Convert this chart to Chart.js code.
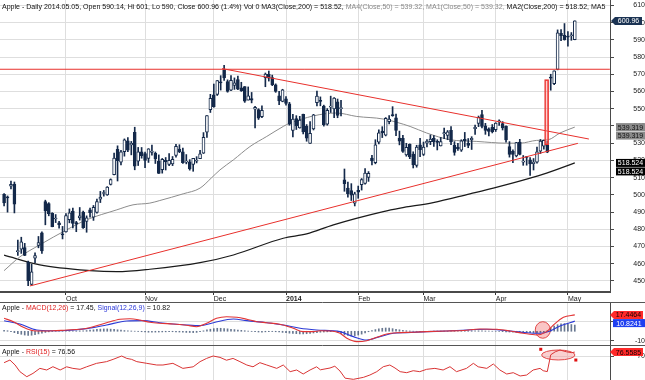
<!DOCTYPE html>
<html><head><meta charset="utf-8">
<script src="https://cdn.jsdelivr.net/npm/chart.js@4.4.1/dist/chart.umd.min.js"></script>
<style>
html,body{margin:0;padding:0;background:#fff;}
#wrap{position:relative;width:645px;height:380px;overflow:hidden;background:#fff;}
canvas{position:absolute;left:0;}
</style></head><body>
<div id="wrap">
<canvas id="c1" width="645" height="302" style="top:0px"></canvas>
<canvas id="c2" width="645" height="44" style="top:302px"></canvas>
<canvas id="c3" width="645" height="34" style="top:346px"></canvas>
</div>
<script>
// ---------- DATA ----------
const dates = [
'2013-09-05','2013-09-06','2013-09-09','2013-09-10','2013-09-11','2013-09-12','2013-09-13','2013-09-16','2013-09-17','2013-09-18',
'2013-09-19','2013-09-20','2013-09-23','2013-09-24','2013-09-25','2013-09-26','2013-09-27','2013-09-30','2013-10-01','2013-10-02',
'2013-10-03','2013-10-04','2013-10-07','2013-10-08','2013-10-09','2013-10-10','2013-10-11','2013-10-14','2013-10-15','2013-10-16',
'2013-10-17','2013-10-18','2013-10-21','2013-10-22','2013-10-23','2013-10-24','2013-10-25','2013-10-28','2013-10-29','2013-10-30',
'2013-10-31','2013-11-01','2013-11-04','2013-11-05','2013-11-06','2013-11-07','2013-11-08','2013-11-11','2013-11-12','2013-11-13',
'2013-11-14','2013-11-15','2013-11-18','2013-11-19','2013-11-20','2013-11-21','2013-11-22','2013-11-25','2013-11-26','2013-11-27',
'2013-11-29','2013-12-02','2013-12-03','2013-12-04','2013-12-05','2013-12-06','2013-12-09','2013-12-10','2013-12-11','2013-12-12',
'2013-12-13','2013-12-16','2013-12-17','2013-12-18','2013-12-19','2013-12-20','2013-12-23','2013-12-24','2013-12-26','2013-12-27',
'2013-12-30','2013-12-31','2014-01-02','2014-01-03','2014-01-06','2014-01-07','2014-01-08','2014-01-09','2014-01-10','2014-01-13',
'2014-01-14','2014-01-15','2014-01-16','2014-01-17','2014-01-21','2014-01-22','2014-01-23','2014-01-24','2014-01-27','2014-01-28',
'2014-01-29','2014-01-30','2014-01-31','2014-02-03','2014-02-04','2014-02-05','2014-02-06','2014-02-07','2014-02-10','2014-02-11',
'2014-02-12','2014-02-13','2014-02-14','2014-02-18','2014-02-19','2014-02-20','2014-02-21','2014-02-24','2014-02-25','2014-02-26',
'2014-02-27','2014-02-28','2014-03-03','2014-03-04','2014-03-05','2014-03-06','2014-03-07','2014-03-10','2014-03-11','2014-03-12',
'2014-03-13','2014-03-14','2014-03-17','2014-03-18','2014-03-19','2014-03-20','2014-03-21','2014-03-24','2014-03-25','2014-03-26',
'2014-03-27','2014-03-28','2014-03-31','2014-04-01','2014-04-02','2014-04-03','2014-04-04','2014-04-07','2014-04-08','2014-04-09',
'2014-04-10','2014-04-11','2014-04-14','2014-04-15','2014-04-16','2014-04-17','2014-04-21','2014-04-22','2014-04-23','2014-04-24',
'2014-04-25','2014-04-28','2014-04-29','2014-04-30','2014-05-01','2014-05-02','2014-05-05'];

const open = [
500.25,498.44,505.00,506.20,467.01,468.50,469.34,461.00,447.96,463.18,
470.71,478.00,496.10,494.88,489.20,486.00,483.78,477.25,478.45,485.63,
490.51,483.86,486.56,489.94,484.64,491.32,486.99,489.83,497.51,500.79,
499.98,505.99,511.77,526.41,519.00,525.00,531.32,529.04,536.27,519.61,
525.00,524.02,521.10,524.58,524.15,519.58,514.58,519.99,517.67,518.00,
522.81,526.58,524.99,519.03,519.23,517.60,519.52,521.02,524.12,536.31,
549.48,558.00,558.30,565.50,572.65,565.79,560.77,563.58,566.89,562.14,
562.85,555.02,555.81,549.70,549.50,545.43,568.00,569.89,568.10,563.82,
557.46,554.17,555.68,552.86,537.45,544.32,538.81,546.80,539.83,529.91,
538.22,553.52,554.90,551.48,540.99,550.91,549.94,554.00,550.07,508.76,
503.95,502.54,495.18,502.61,505.85,506.56,510.06,521.38,518.66,530.61,
536.95,534.66,542.47,546.00,544.75,532.99,532.79,523.15,529.38,523.61,
517.14,529.08,523.42,530.00,530.92,532.79,531.09,528.36,535.45,534.51,
537.44,528.79,527.70,525.90,532.26,529.89,531.93,538.42,541.50,546.52,
540.02,538.32,539.23,537.76,542.38,541.39,539.81,528.02,525.19,522.64,
530.68,519.00,521.90,520.27,518.05,519.00,525.34,528.31,529.06,568.21,
564.53,572.80,593.74,592.64,591.99,592.34,590.14];

const high = [
500.68,499.38,507.92,507.45,473.69,475.40,471.83,461.61,459.71,466.35,
475.83,478.55,496.91,495.47,489.64,488.56,484.67,481.66,489.14,491.80,
492.35,484.60,492.65,490.64,487.79,492.38,493.84,497.58,502.00,502.53,
504.78,509.26,524.30,528.45,525.81,532.47,533.23,531.00,539.25,527.52,
527.49,524.80,526.82,528.89,524.86,523.19,521.13,521.67,523.92,522.25,
529.28,529.09,527.19,523.38,520.42,521.21,522.16,525.87,536.14,546.00,
558.33,564.33,566.38,569.19,575.14,566.75,569.20,567.88,569.00,565.34,
562.88,562.64,559.44,551.45,550.00,551.61,570.72,571.88,569.50,564.41,
560.09,561.28,557.03,553.70,546.80,545.96,545.56,546.86,540.80,542.50,
546.73,560.20,556.85,552.07,550.07,557.29,556.50,555.62,554.80,515.00,
507.37,506.50,501.53,505.10,509.46,515.28,513.50,522.93,531.99,537.75,
539.56,544.85,545.98,551.19,546.89,537.00,534.57,529.92,529.57,525.00,
528.78,532.75,530.65,532.14,534.75,534.44,531.98,533.33,538.74,537.35,
539.66,530.89,529.97,531.97,536.24,532.67,533.75,540.50,545.75,549.00,
541.50,538.94,540.81,541.87,543.48,542.50,540.00,530.90,526.12,530.49,
532.24,522.83,522.16,521.64,521.09,527.76,532.14,531.83,531.13,570.00,
571.99,595.75,595.98,599.43,594.80,594.20,601.00];

const low = [
493.64,489.95,503.48,489.50,464.81,466.01,464.70,447.22,447.50,460.66,
469.25,466.00,482.60,487.82,481.43,483.90,480.72,474.41,478.38,483.75,
480.74,478.60,485.35,480.54,478.28,487.04,485.16,489.35,495.52,499.23,
499.68,505.71,511.52,508.03,517.42,522.45,525.11,523.21,514.54,517.02,
521.27,515.84,518.81,523.00,518.20,512.38,512.59,514.41,517.00,516.96,
521.87,524.49,518.20,517.97,514.33,513.67,518.53,521.00,524.00,533.40,
547.81,550.82,557.68,560.82,566.41,559.57,560.50,561.20,561.00,560.03,
553.67,555.01,553.38,538.80,543.73,544.82,562.76,566.03,563.38,559.50,
552.32,554.00,552.02,540.43,533.60,537.92,538.69,535.35,531.11,529.88,
537.66,551.66,551.68,539.90,540.42,547.81,544.81,544.75,545.75,502.07,
498.62,496.70,493.55,498.00,502.76,506.25,507.81,517.38,518.00,529.50,
533.24,534.20,541.21,545.61,534.35,529.00,524.60,522.42,521.00,515.60,
516.05,522.12,522.81,527.85,529.13,528.10,526.05,528.34,532.59,532.00,
529.16,523.00,525.85,525.20,528.00,527.35,526.33,535.06,539.59,538.86,
535.12,534.25,535.93,536.77,540.26,537.64,530.58,521.89,518.70,522.02,
523.17,517.14,517.21,511.33,514.41,518.42,523.96,526.50,524.45,560.73,
563.96,572.55,589.51,589.80,586.36,589.71,590.00];

const close = [
495.27,498.22,506.17,494.64,467.71,472.69,464.90,450.12,455.32,464.68,
472.30,467.41,490.64,489.10,481.53,486.22,482.75,476.75,487.96,489.56,
483.41,483.03,487.75,480.94,486.59,489.64,492.81,496.04,498.68,501.11,
504.50,508.89,521.36,519.87,524.96,531.91,525.96,529.88,516.68,524.90,
522.70,520.03,526.75,525.45,520.92,512.49,520.56,519.05,520.01,520.63,
528.16,524.99,518.63,519.55,515.00,521.14,519.80,523.74,533.40,545.96,
556.07,551.23,566.32,565.00,567.90,560.02,566.43,565.05,561.36,560.54,
554.43,557.50,554.99,550.77,544.46,549.02,570.09,567.67,563.90,560.09,
554.52,561.02,553.13,540.98,543.93,540.04,543.46,536.52,532.94,535.73,
546.39,557.36,554.25,540.67,549.07,551.51,556.18,546.07,550.50,506.50,
500.75,499.78,500.60,501.53,508.79,512.59,512.51,519.68,528.99,535.96,
535.92,544.43,543.99,545.99,537.37,531.15,525.25,527.55,522.06,517.35,
527.67,526.24,527.76,531.24,532.36,530.75,530.44,530.92,536.09,536.61,
530.65,524.69,526.74,531.40,531.26,528.70,532.87,539.19,544.99,539.78,
537.46,536.86,536.74,541.65,542.55,538.79,531.82,523.47,523.44,530.32,
523.48,519.61,521.68,517.96,519.01,524.94,531.17,531.70,524.75,567.77,
571.94,594.09,592.33,590.09,591.48,592.58,600.96];

// month tick positions (index into dates) and labels
const monthIdx = [18, 41, 61, 82, 103, 122, 143, 164];
const monthLabels = ['Oct', 'Nov', 'Dec', '2014', 'Feb', 'Mar', 'Apr', 'May'];
const priceTicks = [450,460,470,480,490,500,510,520,530,540,550,560,570,580,590,600,610];
const macdTicks = [-10, 0, 10, 20];
const rsiTicks = [70];

// moving averages
const ma50Idx = [0,4.6,10.4,18.2,24,32.8,37.5,42.4,45.3,52.1,57,60.4,62.8,66.7,71.5,76.4,81.2,83.2,96.7,102.6,110.3,118.1,122.9,129.7,137.5,146.1,150.1,154.9,158.3,161.7,166];
const ma50Val = [456,464,471,479.7,485.5,491.3,494.2,495.2,496.7,500.6,503.9,510,514.5,520.3,528,533.9,539.7,541.7,547.5,545.5,544,539.7,535.9,532,531,530,530,531.6,532,535.9,539.32];
const ma200Idx = [0,10.4,25,32.8,42.4,57,66.7,81.2,88,95.8,110.3,115.2,124.8,135.5,142.3,152,157.8,166];
const ma200Val = [465,459.3,456,455.4,456.8,460.6,465.1,474.8,477.3,482.6,490.3,492.3,495.5,500.6,503.9,509.1,512.6,518.52];
const ma50Last = 539.319;
const ma200Last = 518.524;

// drawn trend lines (index, price)
const resIdx = [-1.2, 176.2], resVal = [572.9, 572.9];
const downIdx = [63.4, 170.1], downVal = [573.3, 532.4];
const upIdx = [7.5, 166.9], upVal = [447.1, 529.9];
const gapIdx = 157.8, gapRange = [529.1, 566.9];

// MACD panel
const macdIdx = [0,2.7,5.6,8.5,11.4,14.3,18.2,22.1,25.9,29.8,33.7,36.6,39.5,42.4,45.3,49.2,53.1,56,58.9,61.8,64.7,67.7,70.6,73.5,76.4,80.2,84.1,87,89.9,91.9,95.7,97.7,99.7,102.6,105.5,108.4,111.3,114.2,119,122.9,128.7,133.6,138.4,143.3,147.2,151,154.9,157.8,159.8,162.7,166];
const macdVal = [13.8,10.2,4.3,0.6,0.3,0.5,1.4,2.1,4.9,9.1,12.8,13.4,12,9.6,8.5,7.8,6.4,4.9,8.5,13.8,15.5,14.9,12.8,10.2,9.1,7.4,3.2,-0.4,-0.4,0.5,0,-2.1,-7.4,-11,-10,-6.4,-2.9,-1.5,-1,-0.4,0.3,0.8,2.4,2.1,0.3,-2.1,-3.9,-0.4,6.7,14.9,17.45];
const sigIdx = [0,4.6,9.5,13.4,18.2,24,29.8,35.7,40.5,45.3,53.1,57,60.9,66.7,70.6,76.4,81.2,86.1,90.9,97.7,101.6,105.5,109.3,113.2,117.1,122.9,128.7,134.5,140.4,146.2,152,155.9,158.8,161.7,166];
const sigVal = [11.3,7.8,1.4,0.6,0.9,2.8,6.7,11,11.3,9.1,6.7,6,9.1,13.1,11.3,9.1,6.7,3.2,1.4,-0.4,-5.7,-9.3,-5.7,-2.1,-1.5,-0.4,0.3,1.4,2.1,0.6,-1.5,-2.1,0.3,5.6,10.82];
const hist = [
1.0,0.6,-0.5,-1.5,-2.5,-3.2,-4.0,-4.5,-4.2,-3.5,
-2.8,-2.0,-1.2,-0.6,-0.2,0.1,0.2,0.3,0.3,0.4,
0.4,0.4,0.5,0.6,0.8,1.2,1.6,2.0,2.3,2.5,
2.5,2.3,2.0,1.6,1.2,0.8,0.5,0.3,0.1,-0.2,
-0.5,-0.8,-1.0,-1.0,-0.9,-0.8,-0.7,-0.6,-0.5,-0.5,
-0.6,-0.8,-1.0,-1.2,-1.3,-1.4,-1.2,-0.5,0.5,1.5,
2.2,2.8,3.2,3.2,3.0,2.6,2.2,1.8,1.4,1.0,
0.6,0.2,-0.2,-0.5,-0.8,-0.9,-0.6,-0.4,-0.3,-0.5,
-0.8,-1.2,-1.6,-2.0,-2.2,-2.5,-2.8,-2.8,-2.6,-2.2,
-1.8,-1.4,-1.0,-0.8,-0.6,-0.4,-0.5,-1.2,-2.5,-3.8,
-4.5,-4.8,-4.6,-4.0,-3.0,-1.8,-0.5,0.8,1.8,2.6,
3.2,3.5,3.3,2.8,2.2,1.6,1.0,0.6,0.3,0.1,
0.0,-0.1,-0.2,-0.1,0.0,0.1,0.2,0.2,0.1,0.0,
0.1,0.2,0.3,0.4,0.5,0.6,0.6,0.5,0.5,0.4,
0.3,0.2,0.1,0.0,-0.2,-0.4,-0.6,-0.8,-1.0,-1.1,
-1.2,-1.3,-1.4,-1.5,-1.6,-1.6,-1.2,-0.6,0.5,3.5,
5.5,7.0,8.0,8.2,7.8,7.2,6.6];
const macdLast = 17.4464, signalLast = 10.8241;
const macdMark = {i: 156.7, v: 1.4, ri: 2.2, rv: 8.8};

// RSI panel
const rsiIdx = [0,1.7,3.2,4.6,6.6,8.4,10.4,12.4,14.2,16.3,18.2,20,22.1,24,26.9,29.8,31.7,34.2,35.7,37.1,38.6,41.5,44.4,46.2,49.1,52,55,57,58.9,60.8,62.8,64.7,66.6,68.6,70.6,72.4,74.4,76.4,79.3,81.2,83.2,85.1,87,89,90.9,92,94.8,96.2,97.7,99.2,101.6,104.5,106.4,108.4,110.3,112.2,113.7,115.2,117.1,119,120.9,122.9,125.3,127.7,129.7,131.6,134.5,136.5,137.9,140.4,142.3,144.2,146.2,148.1,150.1,152,153.9,155.9,156.8,158,159,160.3,161.7,163.6,165.1,166];
const rsiVal = [58.9,63.3,55,43.9,35.5,41,49.4,46.7,52.2,46.7,52,49.4,47.8,52,57.8,60.6,64.4,70,66,64.4,60.6,57.8,55,55,57.8,49.4,52,60.6,66,70,67.7,63,66,60.6,55,52,58.9,55,49.4,55,43.9,46.7,40,46.7,52,47,50,53,45,33,31.1,34.4,38.3,43.9,52.2,55,50,43.9,42.2,45.5,43.9,47.8,49.4,46.7,52.2,43.9,49.4,57.8,52,49.4,56.7,46.7,40,42.2,36.7,38.3,46.7,49.4,45.5,44,72,77,80,77,75.6,76.56];
const rsiLast = 76.5585;
const rsiMark = {i: 161.2, v: 71.7, ri: 4.85, rv: 8.3};
const rsiHandles = [[156.1, 81.2], [166.3, 63.3]];

// ---------- STYLE ----------
const FONT = "'Liberation Sans', Arial, Helvetica, sans-serif";
const NAVY = '#14294a';
const GRID = '#dedede';
const AXIS = '#4a4a4a';
const RED = '#e8302c';
const X_MIN = -1.19, X_MAX = 176.24;

const pts = (xs, ys) => xs.map((x, k) => ({x: x, y: ys[k]}));

function drawSegs(ctx, segs, x, y, fitEnd, fitLen, clipRight) {
  ctx.save();
  ctx.font = '7px ' + FONT;
  ctx.textBaseline = 'middle';
  ctx.textAlign = 'left';
  const full = segs.map(s => s[0]).join('');
  const ref = fitLen ? full.slice(0, fitLen) : full;
  const sc = (fitEnd - x) / ctx.measureText(ref).width;
  if (clipRight) { ctx.beginPath(); ctx.rect(0, 0, clipRight, y + 12); ctx.clip(); }
  ctx.translate(x, y);
  ctx.scale(sc, 1);
  let cx = 0;
  for (const s of segs) { ctx.fillStyle = s[1]; ctx.fillText(s[0], cx, 0); cx += ctx.measureText(s[0]).width; }
  ctx.restore();
}

function tag(ctx, x0, y, w, text, bg, fg, arrow) {
  const h = 8;
  ctx.save();
  ctx.beginPath();
  if (arrow) {
    ctx.moveTo(x0, y); ctx.lineTo(x0 + 4, y - h / 2); ctx.lineTo(x0 + w, y - h / 2);
    ctx.lineTo(x0 + w, y + h / 2); ctx.lineTo(x0 + 4, y + h / 2); ctx.closePath();
  } else {
    ctx.rect(x0, y - h / 2, w, h);
  }
  ctx.fillStyle = bg; ctx.fill();
  ctx.fillStyle = fg;
  ctx.font = '7px ' + FONT;
  ctx.textAlign = 'center'; ctx.textBaseline = 'middle';
  ctx.fillText(text, x0 + (arrow ? (w + 4) / 2 : w / 2), y + 0.5);
  ctx.restore();
}

function ellipseMark(chart, m, fill) {
  const {ctx, scales: {x, y}} = chart;
  const cx = x.getPixelForValue(m.i), cy = y.getPixelForValue(m.v);
  const rx = Math.abs(x.getPixelForValue(m.i + m.ri) - cx);
  const ry = Math.abs(y.getPixelForValue(m.v + m.rv) - cy);
  ctx.save();
  ctx.beginPath(); ctx.ellipse(cx, cy, rx, ry, 0, 0, Math.PI * 2);
  ctx.fillStyle = fill; ctx.fill();
  ctx.strokeStyle = '#e04848'; ctx.lineWidth = 1; ctx.stroke();
  ctx.restore();
}

function noPad(s) { s.paddingTop = 0; s.paddingBottom = 0; s.paddingLeft = 0; s.paddingRight = 0; }

function xScale(main) {
  return {
    type: 'linear', min: X_MIN, max: X_MAX, offset: false,
    afterBuildTicks: s => { s.ticks = monthIdx.map(v => ({value: v})); },
    afterFit: s => { s.height = main ? 10 : 0; noPad(s); },
    grid: {color: GRID, offset: false, drawTicks: !!main, tickLength: 3, tickColor: '#333'},
    border: main ? {display: true, color: AXIS, width: 2} : {display: false},
    ticks: {
      display: !!main, autoSkip: false, maxRotation: 0, minRotation: 0, align: 'start', padding: 0,
      color: '#222',
      font: c => ({family: FONT, size: 7, weight: (c.tick && /^\d+$/.test(c.tick.label)) ? 'bold' : 'normal'}),
      callback: v => monthLabels[monthIdx.indexOf(v)]
    }
  };
}

function yScale(min, max, ticks, pad) {
  return {
    type: 'linear', position: 'right', min: min, max: max,
    afterBuildTicks: s => { s.ticks = ticks.map(v => ({value: v})); },
    afterFit: s => { s.width = 35; noPad(s); },
    grid: {color: GRID, drawTicks: true, tickLength: 4, tickColor: AXIS},
    border: {display: true, color: AXIS, width: 1},
    ticks: {font: {family: FONT, size: 7}, color: '#222', padding: pad, crossAlign: 'far'}
  };
}

const baseOpts = {
  responsive: false, animation: false, devicePixelRatio: 1,
  plugins: {legend: {display: false}, tooltip: {enabled: false}}
};

// ---------- MAIN PRICE CHART ----------
const headerSegs = [
  ['Apple - Daily 2014.05.05, Open 590.14, Hi 601, Lo 590, Close 600.96 (1.4%) Vol 0 MA3(Close,200) = 518.52, ', '#111'],
  ['MA4(Close,50) = 539.32, MA1(Close,50) = 539.32, ', '#8a8a8a'],
  ['MA2(Close,200) = 518.52, MA5(Close,200) = 518.52', '#111']
];
const headerFitLen = (headerSegs[0][0] + headerSegs[1][0] + 'MA2(Close,200) = 518.52,').length;

const mainDecor = {
  id: 'mainDecor',
  afterDraw(chart) {
    const ctx = chart.ctx, y = chart.scales.y;
    drawSegs(ctx, headerSegs, 2, 7.5, 589, headerFitLen, 606);
    const last = close[close.length - 1];
    tag(ctx, 611, y.getPixelForValue(last), 31, last.toFixed(2), '#1b3353', '#ffffff', true);
    const p50 = y.getPixelForValue(ma50Last);
    tag(ctx, 616, p50, 29, ma50Last.toFixed(3), '#8a8a8a', '#111', false);
    tag(ctx, 616, p50 + 8.5, 29, ma50Last.toFixed(3), '#8a8a8a', '#111', false);
    const p200 = y.getPixelForValue(ma200Last);
    tag(ctx, 616, p200, 29, ma200Last.toFixed(3), '#000000', '#ffffff', false);
    tag(ctx, 616, p200 + 8.5, 29, ma200Last.toFixed(3), '#000000', '#ffffff', false);
  }
};

new Chart(document.getElementById('c1'), {
  type: 'bar',
  data: {datasets: [
    {type: 'bar', data: [{x: gapIdx, y: gapRange}], backgroundColor: 'rgba(255,120,120,0.35)', borderColor: RED,
     borderWidth: 1, borderSkipped: false, barThickness: 4, grouped: false, order: 0},
    {type: 'line', data: pts(resIdx, resVal), borderColor: RED, borderWidth: 1, pointRadius: 0, order: 1},
    {type: 'line', data: pts(downIdx, downVal), borderColor: RED, borderWidth: 1, pointRadius: 0, order: 1},
    {type: 'line', data: pts(upIdx, upVal), borderColor: RED, borderWidth: 1, pointRadius: 0, order: 1},
    {type: 'bar', data: dates.map((d, i) => ({x: i, y: [open[i], close[i]]})),
     backgroundColor: c => (close[c.dataIndex] >= open[c.dataIndex] ? '#ffffff' : NAVY),
     borderColor: NAVY, borderWidth: 1, borderSkipped: false, barThickness: 3, grouped: false, minBarLength: 1, order: 2},
    {type: 'bar', data: dates.map((d, i) => ({x: i, y: [low[i], high[i]]})),
     backgroundColor: NAVY, borderWidth: 0, barThickness: 1, grouped: false, order: 3},
    {type: 'line', data: pts(ma50Idx, ma50Val), borderColor: '#8c8c8c', borderWidth: 1, pointRadius: 0,
     cubicInterpolationMode: 'monotone', order: 4},
    {type: 'line', data: pts(ma200Idx, ma200Val), borderColor: '#1a1a1a', borderWidth: 1.2, pointRadius: 0,
     cubicInterpolationMode: 'monotone', order: 4}
  ]},
  options: Object.assign({}, baseOpts, {
    layout: {padding: 0, autoPadding: false},
    scales: {x: xScale(true), y: yScale(443.6, 613.1, priceTicks, 16)}
  }),
  plugins: [mainDecor]
});

// ---------- MACD ----------
const macdDecor = {
  id: 'macdDecor',
  beforeDatasetsDraw(chart) { ellipseMark(chart, macdMark, 'rgba(245,140,140,0.5)'); },
  afterDraw(chart) {
    const ctx = chart.ctx, y = chart.scales.y;
    ctx.save();
    ctx.strokeStyle = '#555'; ctx.lineWidth = 1;
    ctx.beginPath(); ctx.moveTo(0, 0.5); ctx.lineTo(645, 0.5); ctx.moveTo(0, 43.5); ctx.lineTo(645, 43.5); ctx.stroke();
    ctx.restore();
    drawSegs(ctx, [['Apple - ', '#111'], ['MACD(12,26)', '#e02020'], [' = 17.45, ', '#111'],
                   ['Signal(12,26,9)', '#2a36d8'], [' = 10.82', '#111']], 2, 6.5, 170);
    tag(ctx, 610, y.getPixelForValue(macdLast), 33, macdLast.toFixed(4), '#ff2a2a', '#1a0000', true);
    tag(ctx, 613, y.getPixelForValue(signalLast) + 2, 32, signalLast.toFixed(4), '#1f3ff0', '#ffffff', false);
  }
};

new Chart(document.getElementById('c2'), {
  type: 'bar',
  data: {datasets: [
    {type: 'line', data: pts(macdIdx, macdVal), borderColor: '#e23434', borderWidth: 1.1, pointRadius: 0,
     cubicInterpolationMode: 'monotone', order: 0},
    {type: 'line', data: pts(sigIdx, sigVal), borderColor: '#2b3ad6', borderWidth: 1.1, pointRadius: 0,
     cubicInterpolationMode: 'monotone', order: 1},
    {type: 'bar', data: hist.map((h, i) => ({x: i, y: h})), backgroundColor: 'rgba(40,62,98,0.7)', borderWidth: 0,
     barThickness: 1, grouped: false, order: 2}
  ]},
  options: Object.assign({}, baseOpts, {
    layout: {padding: {top: 1, bottom: 1, left: 0, right: 0}, autoPadding: false},
    scales: {x: xScale(false), y: yScale(-14.6, 30.1, macdTicks, 17)}
  }),
  plugins: [macdDecor]
});

// ---------- RSI ----------
const rsiDecor = {
  id: 'rsiDecor',
  beforeDatasetsDraw(chart) { ellipseMark(chart, rsiMark, 'rgba(245,150,150,0.45)'); },
  afterDraw(chart) {
    const ctx = chart.ctx, {x, y} = chart.scales;
    drawSegs(ctx, [['Apple - ', '#111'], ['RSI(15)', '#e02020'], [' = 76.56', '#111']], 2, 5.7, 75);
    ctx.save(); ctx.fillStyle = '#e01010';
    for (const h of rsiHandles) {
      const px = x.getPixelForValue(h[0]), py = y.getPixelForValue(h[1]);
      ctx.fillRect(px - 1.5, py - 1.5, 3, 3);
    }
    ctx.restore();
    tag(ctx, 610, y.getPixelForValue(rsiLast), 33, rsiLast.toFixed(4), '#ff2a2a', '#1a0000', true);
  }
};

new Chart(document.getElementById('c3'), {
  type: 'line',
  data: {datasets: [
    {data: pts(rsiIdx, rsiVal), borderColor: '#d93434', borderWidth: 1, pointRadius: 0, tension: 0}
  ]},
  options: Object.assign({}, baseOpts, {
    layout: {padding: 0, autoPadding: false},
    scales: {x: xScale(false), y: yScale(30, 86.7, rsiTicks, 20)}
  }),
  plugins: [rsiDecor]
});
</script>
</body></html>
